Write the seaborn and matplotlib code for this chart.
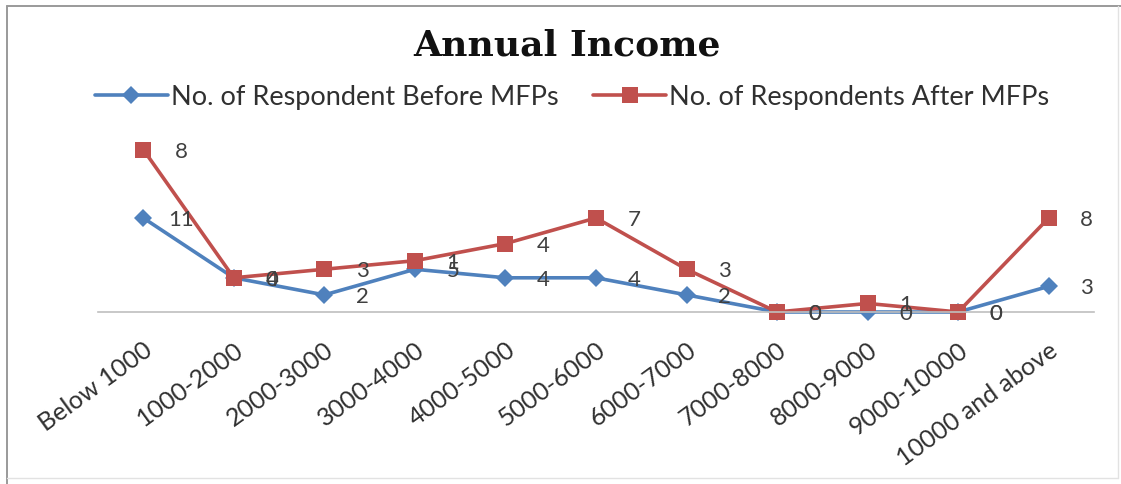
import numpy as np
import pandas as pd
import matplotlib
matplotlib.use("Agg")
import matplotlib.pyplot as plt
import seaborn as sns
from matplotlib.lines import Line2D

# Income bands and respondent counts
income_bands = ["Below 1000", "1000-2000", "2000-3000", "3000-4000", "4000-5000",
                "5000-6000", "6000-7000", "7000-8000", "8000-9000", "9000-10000",
                "10000 and above"]
before_mfps = [11, 4, 2, 5, 4, 4, 2, 0, 0, 0, 3]
after_mfps = [8, 0, 3, 1, 4, 7, 3, 0, 1, 0, 8]

label_before = "No. of Respondent Before MFPs"
label_after = "No. of Respondents After MFPs"

BLUE = "#4F81BD"
RED = "#C0504D"
TEXT = "#404040"

sns.set_theme(style="white")
plt.rcParams["font.family"] = ["Lato", "DejaVu Sans"]

W, H = 1121, 484
fig = plt.figure(figsize=(W / 100, H / 100), dpi=100)

# plot area in pixel terms
left_px, right_px, bottom_px, top_px = 98, 1094, 312, 141
ax = fig.add_axes([left_px / W, 1 - bottom_px / H,
                   (right_px - left_px) / W, (bottom_px - top_px) / H])

pos = np.arange(len(income_bands))
stacked_before = np.array(before_mfps)
stacked_after = stacked_before + np.array(after_mfps)

df = pd.DataFrame({"pos": pos, "before": stacked_before, "after": stacked_after})

sns.lineplot(data=df, x="pos", y="before", ax=ax, color=BLUE, linewidth=2.6,
             marker="D", markersize=9, markeredgewidth=0, sort=False, clip_on=False)
sns.lineplot(data=df, x="pos", y="after", ax=ax, color=RED, linewidth=2.6,
             marker="s", markersize=12, markeredgewidth=0, sort=False, clip_on=False)

ax.set_xlim(-0.5, len(income_bands) - 0.5)
ax.set_ylim(0, 20)

# value labels to the right of each point
for i in pos:
    ax.annotate(str(before_mfps[i]), (i, stacked_before[i]), xytext=(38, -2),
                textcoords="offset pixels", ha="center", va="center",
                fontsize=16, color=TEXT)
    ax.annotate(str(after_mfps[i]), (i, stacked_after[i]), xytext=(38, -2),
                textcoords="offset pixels", ha="center", va="center",
                fontsize=16, color=TEXT)

for s in ["top", "left", "right"]:
    ax.spines[s].set_visible(False)
ax.spines["bottom"].set_color("#BFBFBF")
ax.spines["bottom"].set_linewidth(1.2)
ax.set_yticks([])
ax.set_xticks(pos)
ax.set_xticklabels(income_bands, rotation=36, ha="right", va="top",
                   rotation_mode="anchor", fontsize=18, color="#303030")
ax.tick_params(axis="x", length=0, pad=19)
ax.set_xlabel("")
ax.set_ylabel("")

fig.text(567 / W, 1 - 46 / H, "Annual Income", ha="center", va="center",
         fontsize=26, fontweight="bold", family=["DejaVu Serif"], color="#111111")

handles = [Line2D([], [], color=BLUE, lw=2.6, marker="D", markersize=9, markeredgewidth=0),
           Line2D([], [], color=RED, lw=2.6, marker="s", markersize=12, markeredgewidth=0)]
fig.legend(handles, [label_before, label_after], loc="center",
           bbox_to_anchor=(572 / W, 1 - 97 / H), ncol=2, frameon=False,
           fontsize=19.5, handlelength=2.7, handletextpad=0.1, columnspacing=1.3,
           labelcolor="#303030")

# chart frame: darker top/left edges, faint right/bottom edges
def px_line(x0, y0, x1, y1, color, lw):
    fig.add_artist(Line2D([x0 / W, x1 / W], [1 - y0 / H, 1 - y1 / H],
                          transform=fig.transFigure, color=color, linewidth=lw))

px_line(7, 6, 1121, 6, "#9A9A9A", 1.4)
px_line(7, 6, 7, 484, "#9A9A9A", 1.4)
px_line(1118, 6, 1118, 478, "#E2E2E2", 1.0)
px_line(7, 478, 1118, 478, "#E2E2E2", 1.0)

fig.savefig("out.png", dpi=100, facecolor="white")
